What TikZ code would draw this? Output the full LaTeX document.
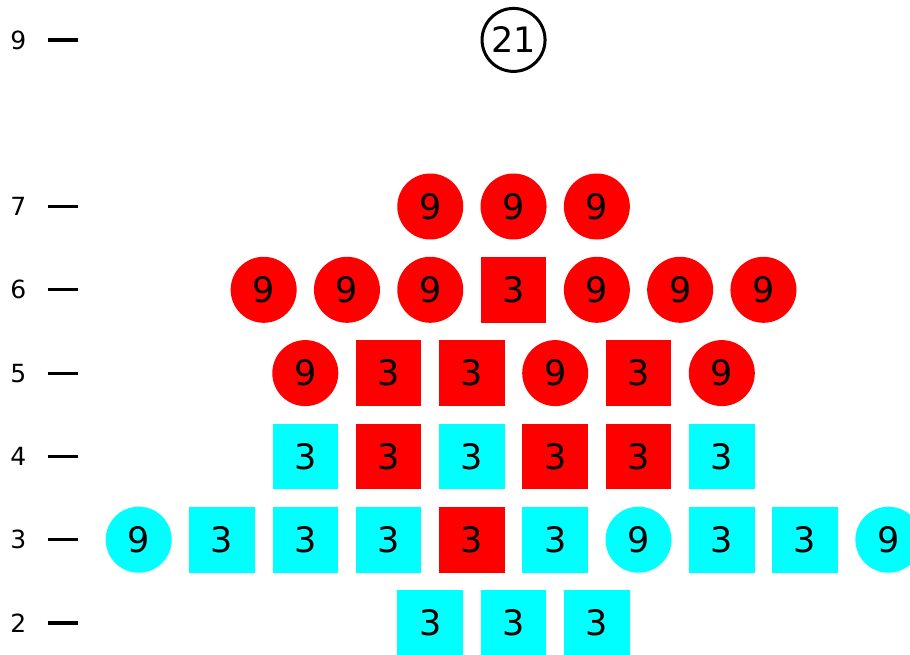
\documentclass[tikz,border=0pt]{standalone}
\usepackage{fontspec}
\setmainfont{DejaVu Sans}
\definecolor{pureRed}{RGB}{255,0,0}
\definecolor{pureCyan}{RGB}{0,255,255}
\begin{document}
\begin{tikzpicture}[x=1pt,y=-1pt,
  numfont/.style={font=\fontsize{35}{40}\selectfont},
  cnode/.style={circle,minimum size=66pt,inner sep=0pt,numfont},
  snode/.style={rectangle,minimum size=65.6pt,inner sep=0pt,numfont},
  rd/.style={fill=pureRed},
  cy/.style={fill=pureCyan},
  axlabel/.style={font=\fontsize{25}{30}\selectfont,inner sep=0pt},
  tickline/.style={line width=3.2pt}]
\useasboundingbox (0,0) rectangle (910,654);
\pgfmathsetmacro{\xo}{138.7}
\pgfmathsetmacro{\dx}{83.3}
% axis
\foreach \v in {2,3,4,5,6,7,9}{
  \pgfmathsetmacro{\yy}{623-(\v-2)*83.3}
  \node[axlabel] (lab\v) at (18.3,\yy) {\v};
  \coordinate (ta\v) at (47.5,\yy);
  \coordinate (tb\v) at (77.5,\yy);
  \draw[tickline] (ta\v) -- (tb\v);
}
% top node
\node[cnode,draw=black,line width=3pt,minimum size=63pt] (n21) at ({\xo+4.5*\dx},{623-7*83.3}) {21};
% rows: k / shape / colour / label
\foreach \k/\s/\c/\t [count=\i] in {
  3.5/cnode/rd/9, 4.5/cnode/rd/9, 5.5/cnode/rd/9}{
  \node[\s,\c] (r7n\i) at ({\xo+\k*\dx},{623-5*83.3}) {\t};}
\foreach \k/\s/\c/\t [count=\i] in {
  1.5/cnode/rd/9, 2.5/cnode/rd/9, 3.5/cnode/rd/9, 4.5/snode/rd/3,
  5.5/cnode/rd/9, 6.5/cnode/rd/9, 7.5/cnode/rd/9}{
  \node[\s,\c] (r6n\i) at ({\xo+\k*\dx},{623-4*83.3}) {\t};}
\foreach \k/\s/\c/\t [count=\i] in {
  2/cnode/rd/9, 3/snode/rd/3, 4/snode/rd/3, 5/cnode/rd/9, 6/snode/rd/3, 7/cnode/rd/9}{
  \node[\s,\c] (r5n\i) at ({\xo+\k*\dx},{623-3*83.3}) {\t};}
\foreach \k/\s/\c/\t [count=\i] in {
  2/snode/cy/3, 3/snode/rd/3, 4/snode/cy/3, 5/snode/rd/3, 6/snode/rd/3, 7/snode/cy/3}{
  \node[\s,\c] (r4n\i) at ({\xo+\k*\dx},{623-2*83.3}) {\t};}
\foreach \k/\s/\c/\t [count=\i] in {
  0/cnode/cy/9, 1/snode/cy/3, 2/snode/cy/3, 3/snode/cy/3, 4/snode/rd/3,
  5/snode/cy/3, 6/cnode/cy/9, 7/snode/cy/3, 8/snode/cy/3, 9/cnode/cy/9}{
  \node[\s,\c] (r3n\i) at ({\xo+\k*\dx},{623-1*83.3}) {\t};}
\foreach \k/\s/\c/\t [count=\i] in {
  3.5/snode/cy/3, 4.5/snode/cy/3, 5.5/snode/cy/3}{
  \node[\s,\c] (r2n\i) at ({\xo+\k*\dx},623) {\t};}
\end{tikzpicture}
\end{document}
